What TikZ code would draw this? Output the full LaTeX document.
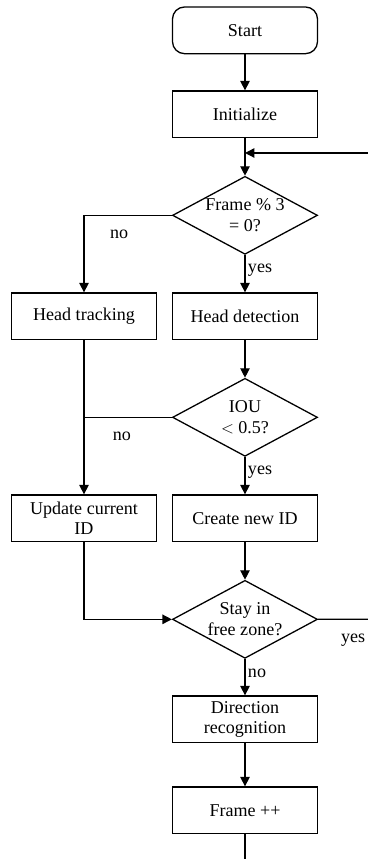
\documentclass[tikz,border=0pt]{standalone}
\usepackage{fontspec}
\setmainfont{Liberation Serif}
\usetikzlibrary{shapes.geometric, arrows.meta}
\tikzstyle{block} = [rectangle, minimum width=4.35cm, minimum height=1.4cm, text centered, align=center, draw=black, line width=1.1pt]
\tikzstyle{startstop} = [block, rounded corners=0.36cm]
\tikzstyle{arrow} = [line width=1.1pt, -{Triangle[length=8pt,width=8pt]}]
\tikzstyle{line} = [line width=1.1pt]
\tikzset{decision/.style={diamond, draw=black, line width=1.1pt, aspect=1.86, minimum width=4.35cm, minimum height=2.34cm, inner sep=0pt, align=center},
lbl/.style={draw=none, inner sep=0.2em}}

\begin{document}
\begin{tikzpicture}[node distance=3.03cm, font=\fontsize{15.4pt}{17.5pt}\selectfont]
    \useasboundingbox (0,0) rectangle (11.04,25.77);
    \node [startstop] (start) at (7.35,24.86) {Start};
    \node [block, below of = start, yshift = 0.51cm] (init) {Initialize};
    \node [decision, below of = init] (frame3) {Frame \% 3\\= 0?};
    \node [block, below of = frame3] (hdetect) {Head detection};
    \node [block, left of = hdetect, xshift = -1.8cm] (htrack) {Head tracking};
    \node [decision, below of = hdetect] (iou) {IOU\\$<$ 0.5?};
    \node [block, below of = iou] (newid) {Create new ID};
    \node [block, left of = newid, xshift = -1.8cm] (update) {Update current\\ID};
    \node [decision, below of = newid] (zone) {Stay in\\free zone?};
    \node [block, below of = zone, yshift = 0.03cm] (direction) {Direction\\recognition};
    \node [block, below of = direction, yshift = 0.3cm] (frameinc) {Frame ++};

    % loose ends at the picture border
    \coordinate (loopin) at (11.04,21.18);
    \coordinate (zoneout) at (11.04,7.19);
    \coordinate (loopout) at (7.35,0);

    \draw[arrow] (start) -- (init);
    \draw[arrow] (init) -- (frame3);
    \draw[arrow] (loopin) -- (loopin -| init.south);
    \draw[arrow] (frame3.west) -| node[lbl, pos=0.3, below=0.35cm] {no} (htrack.north);
    \draw[arrow] (frame3) -- node[lbl, pos=0.4, right] {yes} (hdetect);
    \draw[arrow] (hdetect) -- (iou);
    \draw[line] (iou.west) -- node[lbl, pos=0.57, below=0.35cm] {no} (iou.west -| htrack.south);
    \draw[arrow] (htrack) -- (update);
    \draw[arrow] (iou) -- node[lbl, pos=0.4, right] {yes} (newid);
    \draw[arrow] (newid) -- (zone);
    \draw[arrow] (update.south) |- (zone.west);
    \draw[line] (zone.east) -- node[lbl, pos=0.7, below=0.35cm] {yes} (zoneout);
    \draw[arrow] (zone) -- node[lbl, pos=0.4, right] {no} (direction);
    \draw[arrow] (direction) -- (frameinc);
    \draw[line] (frameinc) -- (loopout);
\end{tikzpicture}
\end{document}
